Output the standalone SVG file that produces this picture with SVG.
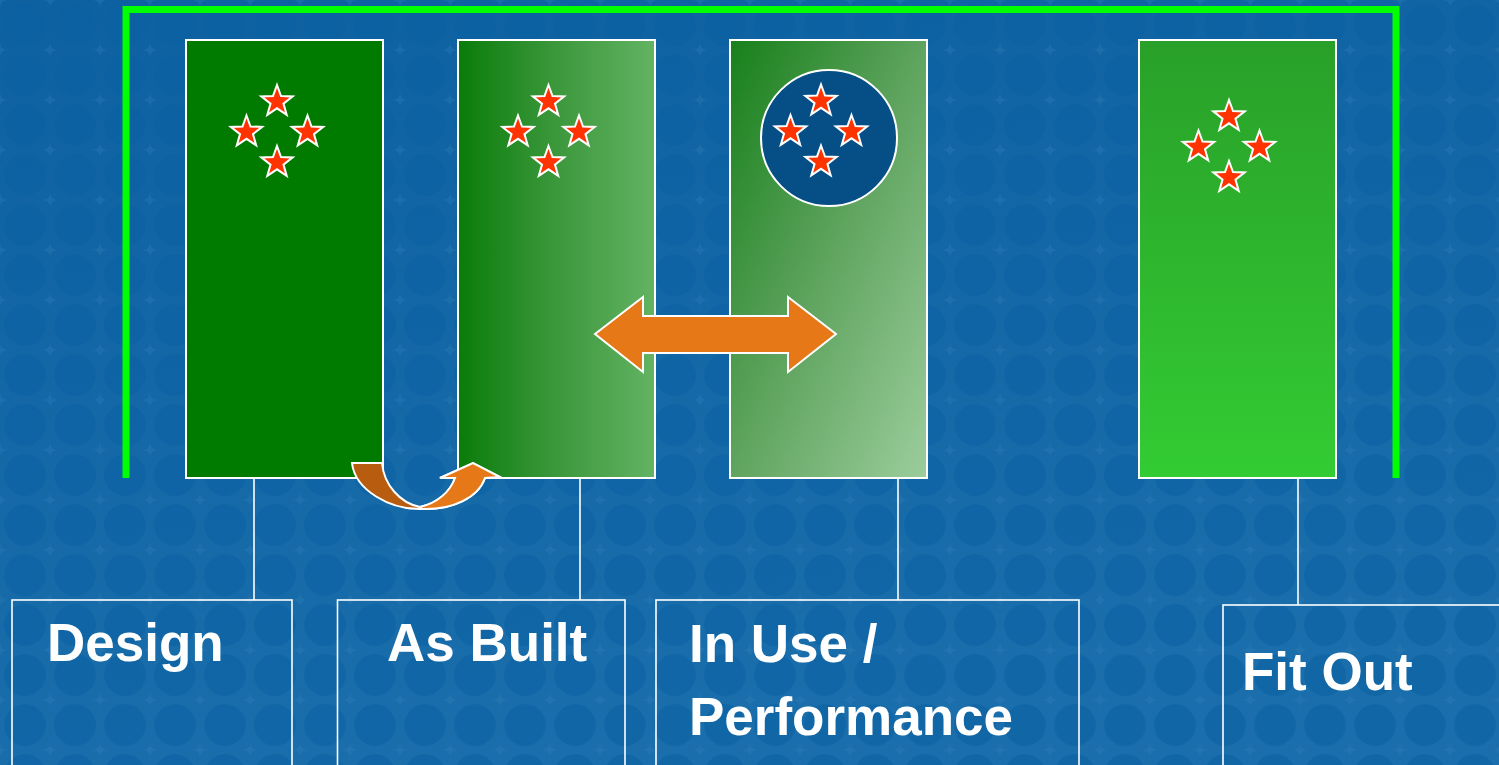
<svg xmlns="http://www.w3.org/2000/svg" xmlns:xlink="http://www.w3.org/1999/xlink" width="1499" height="765" viewBox="0 0 1499 765">
<style>
.col{stroke:#ffffff;stroke-width:2}
.box{fill:none;stroke:#ffffff;stroke-width:1.6}
.lbl{font-family:"Liberation Sans",Arial,sans-serif;font-weight:bold;font-size:53px;fill:#ffffff}
.conn{stroke:#ffffff;stroke-width:1.6;fill:none}
.arr{stroke:#ffffff;stroke-width:2;stroke-linejoin:miter}
</style>
<defs>
<path id="star" d="M0,-16.5 L4,-5.5 L15.69,-5.1 L6.47,2.1 L9.7,13.35 L0,6.8 L-9.7,13.35 L-6.47,2.1 L-15.69,-5.1 L-4,-5.5 Z" fill="#ff3300" stroke="#ffffff" stroke-width="2"/>
<g id="cluster">
<use xlink:href="#star" x="0" y="-30.5"/>
<use xlink:href="#star" x="-30.5" y="0"/>
<use xlink:href="#star" x="30.5" y="0"/>
<use xlink:href="#star" x="0" y="30.5"/>
</g>
<linearGradient id="bg" x1="0" y1="0" x2="0.3" y2="1">
<stop offset="0" stop-color="#0d61a1"/>
<stop offset="1" stop-color="#1a6eab"/>
</linearGradient>
<pattern id="dots" width="50" height="50" patternUnits="userSpaceOnUse">
<circle cx="25" cy="25" r="21" fill="#0860a2" opacity="0.5"/>
<path d="M0,-8 Q0,0 8,0 Q0,0 0,8 Q0,0 -8,0 Q0,0 0,-8 Z" fill="#3a86c0" opacity="0.25"/>
<path d="M50,-8 Q50,0 58,0 Q50,0 50,8 Q50,0 42,0 Q50,0 50,-8 Z" fill="#3a86c0" opacity="0.25"/>
<path d="M0,42 Q0,50 8,50 Q0,50 0,58 Q0,50 -8,50 Q0,50 0,42 Z" fill="#3a86c0" opacity="0.25"/>
<path d="M50,42 Q50,50 58,50 Q50,50 50,58 Q50,50 42,50 Q50,50 50,42 Z" fill="#3a86c0" opacity="0.25"/>
</pattern>
<linearGradient id="gAsBuilt" x1="0" y1="0" x2="1" y2="0">
<stop offset="0" stop-color="#097c09"/>
<stop offset="0.5" stop-color="#3c983c"/>
<stop offset="1" stop-color="#63b363"/>
</linearGradient>
<linearGradient id="gInUse" x1="0" y1="0" x2="1" y2="1">
<stop offset="0" stop-color="#17801a"/>
<stop offset="0.5" stop-color="#5fa45f"/>
<stop offset="1" stop-color="#9ccd9c"/>
</linearGradient>
<linearGradient id="gFitOut" x1="0" y1="0" x2="0" y2="1">
<stop offset="0" stop-color="#29a029"/>
<stop offset="1" stop-color="#33cc33"/>
</linearGradient>
</defs>

<rect x="0" y="0" width="1499" height="765" fill="url(#bg)"/>
<rect x="0" y="0" width="1499" height="765" fill="url(#dots)"/>

<g id="frame">
<path d="M126,478 L126,9.5 L1396,9.5 L1396,478" fill="none" stroke="#00ff00" stroke-width="7"/>
</g>

<g id="connectors">
<line class="conn" x1="254" y1="478" x2="254" y2="600"/>
<line class="conn" x1="580" y1="478" x2="580" y2="600"/>
<line class="conn" x1="898" y1="478" x2="898" y2="600"/>
<line class="conn" x1="1298" y1="478" x2="1298" y2="605"/>
</g>

<g id="design">
<rect class="col" x="186" y="40" width="197" height="438" fill="#007b00"/>
<use xlink:href="#cluster" transform="translate(277,132)"/>
<rect class="box" x="12" y="600" width="280" height="180"/>
<text class="lbl" x="47" y="661">Design</text>
</g>

<g id="as-built">
<rect class="col" x="458" y="40" width="197" height="438" fill="url(#gAsBuilt)"/>
<use xlink:href="#cluster" transform="translate(548.5,132)"/>
<rect class="box" x="337.5" y="600" width="287.5" height="180"/>
<text class="lbl" x="387" y="661">As Built</text>
</g>

<g id="in-use">
<rect class="col" x="730" y="40" width="197" height="438" fill="url(#gInUse)"/>
<circle cx="829" cy="138" r="68" fill="#054e86" stroke="#ffffff" stroke-width="2"/>
<use xlink:href="#cluster" transform="translate(821,131.5)"/>
<rect class="box" x="656" y="600" width="423" height="180"/>
<text class="lbl" x="689" y="662">In Use /</text>
<text class="lbl" x="689" y="735">Performance</text>
</g>

<g id="fit-out">
<rect class="col" x="1139" y="40" width="197" height="438" fill="url(#gFitOut)"/>
<use xlink:href="#cluster" transform="translate(1229,147)"/>
<rect class="box" x="1223" y="605" width="290" height="180"/>
<text class="lbl" x="1242" y="690">Fit Out</text>
</g>

<g id="arrows">
<path class="arr" fill="#b85d10" d="M352,463 L382,463 C384,485 400,503 420,507 C438,503 450,492 455,478 L440,478 L473,463 L500,477 L485,478 C478,498 452,510 422,509 C390,510 355,490 352,463 Z"/>
<path class="arr" fill="#e67818" d="M420,507 C437,503 450,492 455,478 L440,478 L473,463 L500,477 L485,478 C478,498 452,510 422,509 Z"/>
<path class="arr" fill="#e67818" d="M595,334 L643,297 L643,316 L788,316 L788,297 L836,334 L788,372 L788,353 L643,353 L643,372 Z"/>
</g>
</svg>
